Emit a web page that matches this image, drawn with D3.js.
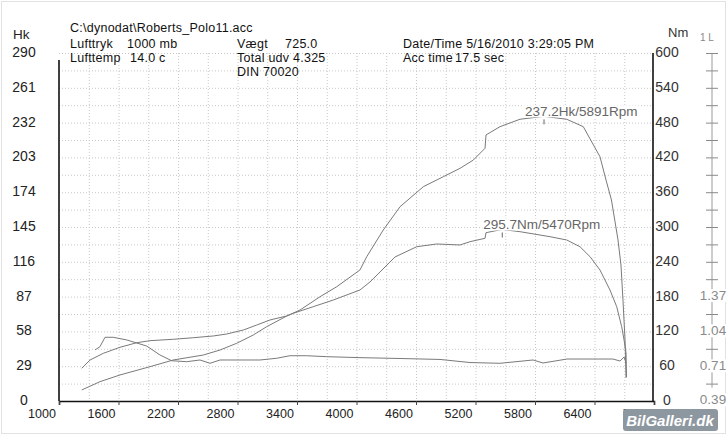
<!DOCTYPE html>
<html lang="en">
<head>
<meta charset="UTF-8">
<title>dyno chart</title>
<script src="https://cdn.jsdelivr.net/npm/d3@7"></script>
<style>
  body { margin: 0; background: #fff; }
  svg text { font-family: "Liberation Sans", Arial, sans-serif; }
  .grid line { stroke: #c8c8c8; stroke-width: 1px; stroke-dasharray: 1, 2; }
  .curve { fill: none; stroke: #7a7a7a; stroke-width: 1px; }
</style>
</head>
<body>
<div id="chart"></div>
<script>
// ---- data ----
const rpmTicks = [1000, 1600, 2200, 2800, 3400, 4000, 4600, 5200, 5800, 6400, 7000];
const hkTicks = [0, 29, 58, 87, 116, 145, 174, 203, 232, 261, 290];
const nmTicks = [0, 60, 120, 180, 240, 300, 360, 420, 480, 540, 600];
const lTicks = [0.39, 0.71, 1.04, 1.37];

const powerRpm = [1229, 1413, 1615, 1918, 2153, 2455, 2624, 2792, 2959, 3094, 3296, 3430, 3632, 3800, 4035, 4103, 4270, 4439, 4674, 4875, 5044, 5178, 5296, 5306, 5447, 5649, 5891, 6120, 6287, 6455, 6516, 6571, 6637, 6667, 6687, 6708, 6718];
const powerHk = [9.2, 16.1, 21.7, 28.6, 34.2, 38.3, 42.5, 48.1, 55.0, 61.9, 70.8, 75.8, 86.9, 95.2, 109.2, 120.2, 142.5, 161.9, 178.6, 186.9, 193.9, 200.8, 210.6, 221.7, 228.6, 234.8, 237.2, 234.8, 228.6, 203.6, 184.2, 167.5, 134.2, 113.3, 84.2, 50.8, 19.2];

const torqueRpm = [1229, 1313, 1447, 1615, 1784, 1918, 2153, 2354, 2556, 2691, 2859, 2994, 3128, 3296, 3363, 3564, 3766, 4035, 4136, 4237, 4388, 4607, 4809, 5044, 5145, 5296, 5306, 5467, 5649, 5951, 6120, 6254, 6355, 6455, 6556, 6624, 6674, 6698, 6718, 6723];
const torqueNm = [56.4, 70.7, 82.2, 92.6, 100.5, 104.0, 106.4, 109.1, 112.1, 115.5, 122.4, 131.0, 139.7, 146.6, 151.2, 162.6, 174.1, 191.4, 205.2, 222.4, 248.3, 266.0, 270.7, 269.0, 274.7, 280.5, 290.2, 295.7, 291.9, 283.3, 277.6, 266.0, 248.8, 225.9, 191.4, 162.6, 128.1, 105.2, 82.8, 41.4];

const lambdaRpm = [1363, 1413, 1464, 1548, 1683, 1884, 2018, 2136, 2288, 2422, 2523, 2624, 2825, 3027, 3195, 3329, 3498, 3699, 4035, 4439, 4842, 5145, 5447, 5780, 5881, 6123, 6587, 6657, 6698, 6718];
const lambdaVal = [0.864, 0.895, 0.983, 0.983, 0.958, 0.901, 0.817, 0.763, 0.754, 0.770, 0.739, 0.770, 0.770, 0.770, 0.786, 0.810, 0.810, 0.801, 0.792, 0.784, 0.775, 0.746, 0.739, 0.770, 0.742, 0.779, 0.779, 0.760, 0.798, 0.742];

const peakPower = { rpm: 5891, hk: 237.2 };
const peakTorque = { rpm: 5470, nm: 295.7 };

const draw = () => {
  const svg = d3.select("#chart").append("svg")
    .attr("width", 728)
    .attr("height", 440);

  // light outer frame
  svg.append("rect")
    .attr("x", 1.5).attr("y", 1.5)
    .attr("width", 724).attr("height", 432)
    .attr("fill", "none").attr("stroke", "#e2e2e2");

  const x = d3.scaleLinear().domain([1000, 7000]).range([59, 654]);
  const yHk = d3.scaleLinear().domain([0, 290]).range([401, 53]);
  const yNm = d3.scaleLinear().domain([0, 600]).range([401, 53]);
  // lambda axis: 10 steps of 0.98/3 from 0.385
  const yL = d3.scaleLinear().domain([0.385, 0.385 + 10 * 0.98 / 3]).range([401, 53]);

  // grid
  const grid = svg.append("g").attr("class", "grid");
  grid.selectAll(".h").data(d3.range(30, 601, 30)).enter().append("line")
    .attr("x1", x(1000)).attr("x2", x(7000))
    .attr("y1", d => yNm(d) + 0.5).attr("y2", d => yNm(d) + 0.5);
  grid.selectAll(".v").data(d3.range(1300, 7000, 300)).enter().append("line")
    .attr("x1", d => x(d) + 0.5).attr("x2", d => x(d) + 0.5)
    .attr("y1", yNm(600)).attr("y2", yNm(0));

  // axes
  const xAxis = d3.axisBottom(x).tickValues(rpmTicks).tickSize(4).tickFormat("");
  const gx = svg.append("g").attr("transform", "translate(0," + yNm(0) + ")").call(xAxis);
  gx.select(".domain").attr("stroke", "#111").attr("stroke-width", 1.6);
  gx.selectAll(".tick line").attr("stroke", "#444");

  svg.append("g").selectAll("text").data(rpmTicks).enter().append("text")
    .attr("x", d => x(d) - 17).attr("y", 418)
    .attr("text-anchor", "middle")
    .attr("font-size", "12.5px").attr("fill", "#222")
    .text(d => d);

  svg.append("line")
    .attr("x1", x(1000)).attr("x2", x(1000))
    .attr("y1", 60).attr("y2", yNm(0))
    .attr("stroke", "#111").attr("stroke-width", 1.6);
  svg.append("line")
    .attr("x1", x(7000) - 1).attr("x2", x(7000) - 1)
    .attr("y1", yNm(600)).attr("y2", yNm(0))
    .attr("stroke", "#111").attr("stroke-width", 1.6);

  svg.append("g").selectAll("text").data(hkTicks).enter().append("text")
    .attr("x", 24).attr("y", d => yHk(d) + 4)
    .attr("text-anchor", "middle")
    .attr("font-size", "14px").attr("fill", "#222")
    .text(d => d);

  svg.append("g").selectAll("text").data(nmTicks).enter().append("text")
    .attr("x", 667).attr("y", d => yNm(d) + 4)
    .attr("text-anchor", "middle")
    .attr("font-size", "14px").attr("fill", "#333")
    .text(d => d);

  // lambda scale with crosses
  const lx = 712;
  svg.append("line")
    .attr("x1", lx).attr("x2", lx)
    .attr("y1", yNm(600)).attr("y2", yNm(30) + 4)
    .attr("stroke", "#9a9a9a");
  svg.append("g").selectAll("line").data(d3.range(30, 601, 30)).enter().append("line")
    .attr("x1", lx - 6).attr("x2", lx + 6)
    .attr("y1", d => yNm(d) + 0.5).attr("y2", d => yNm(d) + 0.5)
    .attr("stroke", "#8a8a8a");
  const lLab = svg.append("g").selectAll("g").data(lTicks).enter().append("g");
  lLab.append("rect")
    .attr("x", lx - 15).attr("y", d => yL(d) - 7)
    .attr("width", 30).attr("height", 13)
    .attr("fill", "#fff");
  lLab.append("text")
    .attr("x", lx + 1).attr("y", d => yL(d) + 4)
    .attr("text-anchor", "middle")
    .attr("font-size", "13.5px").attr("fill", "#8a8a8a")
    .text(d => d.toFixed(2));

  // curves
  const line = (xs, ys, yScale) => d3.line()
    .x(i => x(xs[i]))
    .y(i => yScale(ys[i]))(d3.range(xs.length));

  svg.append("path").attr("class", "curve").attr("d", line(lambdaRpm, lambdaVal, yL));
  svg.append("path").attr("class", "curve").attr("d", line(torqueRpm, torqueNm, yNm));
  svg.append("path").attr("class", "curve").attr("d", line(powerRpm, powerHk, yHk));

  // peak labels
  const peak = (px, py, label, dx, dy) => {
    svg.append("line")
      .attr("x1", px).attr("x2", px)
      .attr("y1", py + 3).attr("y2", py + 8)
      .attr("stroke", "#666");
    const g = svg.append("g");
    const t = g.append("text")
      .attr("x", px + dx).attr("y", py + dy)
      .attr("font-size", "13.5px").attr("fill", "#666")
      .text(label);
    const b = t.node().getBBox();
    g.insert("rect", "text")
      .attr("x", b.x - 1).attr("y", b.y + 1)
      .attr("width", b.width + 2).attr("height", b.height - 3)
      .attr("fill", "#fff");
  };
  peak(x(peakPower.rpm), yHk(peakPower.hk), "237.2Hk/5891Rpm", -19, 0);
  peak(x(peakTorque.rpm), yNm(peakTorque.nm), "295.7Nm/5470Rpm", -19, 0);

  // header
  const txt = (tx, ty, s, size, fill) => svg.append("text")
    .attr("x", tx).attr("y", ty)
    .attr("font-size", size || "12.5px").attr("fill", fill || "#111")
    .attr("letter-spacing", size ? null : "0.25px")
    .text(s);
  txt(13, 39, "Hk", "13.5px", "#222");
  txt(668, 37, "Nm", "13px", "#333");
  txt(700, 41, "1 L", "10px", "#888");
  txt(70, 32, "C:\\dynodat\\Roberts_Polo11.acc");
  txt(70, 48, "Lufttryk");
  txt(127, 48, "1000 mb");
  txt(70, 62, "Lufttemp");
  txt(130, 62, "14.0 c");
  txt(237, 48, "Vægt");
  txt(285, 48, "725.0");
  txt(237, 62, "Total udv 4.325");
  txt(237, 76, "DIN 70020");
  txt(403, 48, "Date/Time 5/16/2010 3:29:05 PM");
  txt(403, 62, "Acc time");
  txt(455, 62, "17.5 sec");

  // watermark
  svg.append("rect")
    .attr("x", 623).attr("y", 409)
    .attr("width", 95).attr("height", 22).attr("rx", 3)
    .attr("fill", "#8d979f");
  svg.append("text")
    .attr("x", 670).attr("y", 426)
    .attr("text-anchor", "middle")
    .attr("font-size", "15px").attr("font-weight", "bold").attr("font-style", "italic")
    .attr("fill", "#fff")
    .text("BilGalleri.dk");
};
draw();
</script>
</body>
</html>
